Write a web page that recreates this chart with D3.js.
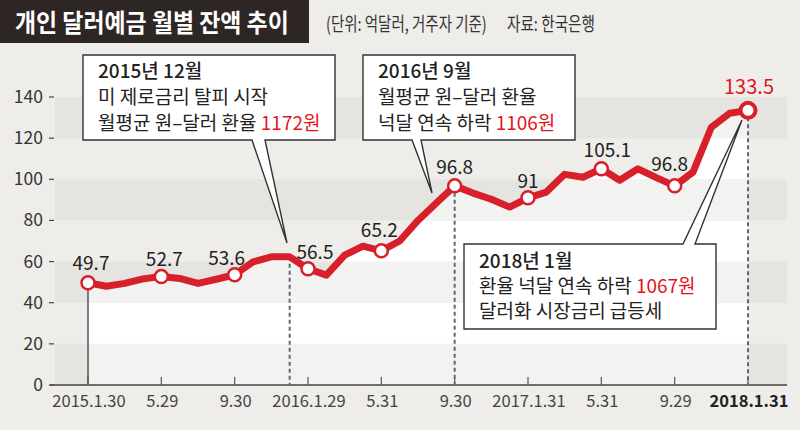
<!DOCTYPE html>
<html>
<head>
<meta charset="utf-8">
<script src="https://cdn.jsdelivr.net/npm/d3@7"></script>
<style>
  html, body { margin: 0; padding: 0; background: #eeede9; }
  svg { display: block; }
  text { font-family: "Noto Sans CJK KR", "Noto Sans", sans-serif; }
</style>
</head>
<body>
<svg id="chart" width="800" height="430"></svg>
<script>
// ---------- data ----------
const months = [
  "2015-01","2015-02","2015-03","2015-04","2015-05","2015-06","2015-07","2015-08","2015-09","2015-10","2015-11","2015-12",
  "2016-01","2016-02","2016-03","2016-04","2016-05","2016-06","2016-07","2016-08","2016-09","2016-10","2016-11","2016-12",
  "2017-01","2017-02","2017-03","2017-04","2017-05","2017-06","2017-07","2017-08","2017-09","2017-10","2017-11","2017-12",
  "2018-01"
];
const balances = [
  49.7, 48.0, 49.4, 51.6, 52.7, 51.8, 49.4, 51.4, 53.6, 59.8, 62.3, 62.3,
  56.5, 53.4, 63.1, 67.5, 65.2, 70.0, 80.0, 88.5, 96.8, 93.3, 90.3, 86.5,
  91.0, 93.8, 102.4, 101.0, 105.1, 99.5, 105.1, 100.8, 96.8, 103.5, 125.3, 132.1,
  133.5
];
const markedMonths = ["2015-01","2015-05","2015-09","2016-01","2016-05","2016-09","2017-01","2017-05","2017-09","2018-01"];
const markedLabels = ["49.7","52.7","53.6","56.5","65.2","96.8","91","105.1","96.8","133.5"];
const tickMonths = ["2015-01","2015-05","2015-09","2016-01","2016-05","2016-09","2017-01","2017-05","2017-09","2018-01"];
const tickLabels = ["2015.1.30","5.29","9.30","2016.1.29","5.31","9.30","2017.1.31","5.31","9.29","2018.1.31"];
const yTicks = [0, 20, 40, 60, 80, 100, 120, 140];
const guideMonths = ["2015-12","2016-09","2018-01"];

const titleText = "개인 달러예금 월별 잔액 추이";
const unitText = "(단위: 억달러, 거주자 기준)";
const sourceText = "자료: 한국은행";

const callouts = [
  { lines: [["2015년 12월"], ["미 제로금리 탈피 시작"], ["월평균 원–달러 환율 ", "1172원"]] },
  { lines: [["2016년 9월"], ["월평균 원–달러 환율"], ["넉달 연속 하락 ", "1106원"]] },
  { lines: [["2018년 1월"], ["환율 넉달 연속 하락 ", "1067원"], ["달러화 시장금리 급등세"]] }
];

// ---------- layout ----------
const RED = "#d8202a";
const data = months.map((m, i) => ({ m, i, v: balances[i] }));
const idx = m => months.indexOf(m);

const svg = d3.select("#chart");
const plotL = 55, plotR = 787;

const x = d3.scaleLinear().domain([0, months.length - 1]).range([88, 748]);
const y = d3.scaleLinear().domain([0, 140]).range([385, 97]);

// background
svg.append("rect").attr("width", 800).attr("height", 430).attr("fill", "#eeede9");

// bands (outside / above line)
const bands = d3.range(0, 140, 20).map(v => ({ lo: v, hi: v + 20, gray: (v / 20) % 2 === 0 }));
svg.append("g").selectAll("rect").data(bands).join("rect")
  .attr("x", plotL).attr("width", plotR - plotL)
  .attr("y", d => y(d.hi)).attr("height", d => y(d.lo) - y(d.hi))
  .attr("fill", d => d.gray ? "#e5e4e0" : "#eeede9");

// area under line (lighter bands)
const area = d3.area().x(d => x(d.i)).y0(y(0)).y1(d => y(d.v));
svg.append("clipPath").attr("id", "under").append("path").attr("d", area(data));
svg.append("g").attr("clip-path", "url(#under)").selectAll("rect").data(bands).join("rect")
  .attr("x", plotL).attr("width", plotR - plotL)
  .attr("y", d => y(d.hi)).attr("height", d => y(d.lo) - y(d.hi))
  .attr("fill", d => d.gray ? "#f2f2f1" : "#ffffff");

// y axis labels + ticks
const yg = svg.append("g");
yg.selectAll("text").data(yTicks).join("text")
  .attr("x", 43).attr("y", d => y(d) + 6)
  .attr("text-anchor", "end").attr("font-size", 17.5).attr("fill", "#333")
  .text(d => d);
yg.selectAll("line").data(yTicks).join("line")
  .attr("x1", 49).attr("x2", 54).attr("y1", d => y(d)).attr("y2", d => y(d))
  .attr("stroke", "#444").attr("stroke-width", 1.2);

// x axis
svg.append("line").attr("x1", 50).attr("x2", plotR).attr("y1", y(0)).attr("y2", y(0))
  .attr("stroke", "#444").attr("stroke-width", 1.5);
svg.append("g").selectAll("line").data(tickMonths).join("line")
  .attr("x1", d => x(idx(d))).attr("x2", d => x(idx(d)))
  .attr("y1", y(0)).attr("y2", y(0) - 8)
  .attr("stroke", "#555").attr("stroke-width", 1.2);
svg.append("g").selectAll("text").data(tickLabels).join("text")
  .attr("x", (d, i) => x(idx(tickMonths[i])) + 1).attr("y", 407)
  .attr("text-anchor", "middle").attr("font-size", 16.5)
  .attr("font-weight", (d, i) => i === tickLabels.length - 1 ? 700 : 400)
  .attr("fill", (d, i) => i === tickLabels.length - 1 ? "#222" : "#444")
  .text(d => d);

// vertical guides
const first = data[0];
svg.append("line").attr("x1", x(first.i)).attr("x2", x(first.i))
  .attr("y1", y(first.v)).attr("y2", y(0)).attr("stroke", "#555").attr("stroke-width", 1.5);
svg.append("g").selectAll("line").data(guideMonths).join("line")
  .attr("x1", d => x(idx(d))).attr("x2", d => x(idx(d)))
  .attr("y1", d => y(balances[idx(d)])).attr("y2", y(0))
  .attr("stroke", "#5d6874").attr("stroke-width", 2).attr("stroke-dasharray", "4,3");

// line
const line = d3.line().x(d => x(d.i)).y(d => y(d.v));
svg.append("path").attr("d", line(data)).attr("fill", "none")
  .attr("stroke", RED).attr("stroke-width", 7).attr("stroke-linejoin", "round").attr("stroke-linecap", "round");

// callouts
function drawCallout(c, box, base, tip, side, textX, baselines) {
  const [x0, y0, x1, y1] = box;
  let p;
  if (side === "bottom") {
    p = `M${x0},${y0}H${x1}V${y1}H${base[1]}L${tip[0]},${tip[1]}L${base[0]},${y1}H${x0}Z`;
  } else {
    p = `M${x0},${y0}H${base[0]}L${tip[0]},${tip[1]}L${base[1]},${y0}H${x1}V${y1}H${x0}Z`;
  }
  const g = svg.append("g");
  g.append("path").attr("d", p).attr("fill", "#fff").attr("stroke", "#333").attr("stroke-width", 1.4)
    .attr("stroke-linejoin", "miter");
  c.lines.forEach((parts, li) => {
    const t = g.append("text").attr("x", textX).attr("y", baselines[li])
      .attr("font-size", 19).attr("fill", "#222")
      .attr("font-weight", li === 0 ? 500 : 400);
    parts.forEach((s, k) => {
      t.append("tspan").text(s).attr("fill", k === 1 ? "#e3151f" : "#222");
    });
  });
}
drawCallout(callouts[0], [83, 55, 335, 140], [252, 265], [287, 243], "bottom", 98, [78, 104, 130]);
drawCallout(callouts[1], [363, 55, 575, 140], [412, 421], [432, 193], "bottom", 378, [78, 104, 130]);
drawCallout(callouts[2], [464, 244, 716, 329], [683, 695], [742, 120], "top", 479, [268, 293, 318]);

// markers
const marked = markedMonths.map((m, k) => ({ i: idx(m), v: balances[idx(m)], label: markedLabels[k], k }));
const labelDx = [3, 3, -8, 7, -2, 0, 0, 6, -5, 1];
const labelDy = [-13, -11, -10, -10, -14, -12, -10, -12, -15, -16];
const last = marked.length - 1;
svg.append("g").selectAll("circle").data(marked).join("circle")
  .attr("cx", d => x(d.i)).attr("cy", d => y(d.v))
  .attr("r", d => d.k === last ? 7.5 : 6.5)
  .attr("fill", "#fff").attr("stroke", RED)
  .attr("stroke-width", d => d.k === last ? 4 : 2.5);
svg.append("g").selectAll("text").data(marked).join("text")
  .attr("x", d => x(d.i) + labelDx[d.k]).attr("y", d => y(d.v) + labelDy[d.k])
  .attr("text-anchor", "middle").attr("font-size", d => d.k === last ? 20 : 19)
  .attr("fill", d => d.k === last ? "#e3151f" : "#222")
  .text(d => d.label);

// title (condensed by horizontal scaling to a target width)
function condensed(parent, txt, x0, y0, size, weight, fill, targetW) {
  const g = parent.append("g");
  const t = g.append("text").attr("x", 0).attr("y", 0).attr("font-size", size)
    .attr("font-weight", weight).attr("fill", fill).text(txt);
  const w = t.node().getComputedTextLength();
  const s = w > 0 ? targetW / w : 1;
  g.attr("transform", `translate(${x0},${y0}) scale(${s},1)`);
  return g;
}
svg.append("rect").attr("x", 0).attr("y", 0).attr("width", 309).attr("height", 43).attr("fill", "#2e2624");
condensed(svg, titleText, 15, 32, 25, 700, "#fff", 274);
condensed(svg, unitText, 326, 31, 19, 400, "#333", 161);
condensed(svg, sourceText, 507, 31, 19, 400, "#333", 88);
</script>
</body>
</html>
